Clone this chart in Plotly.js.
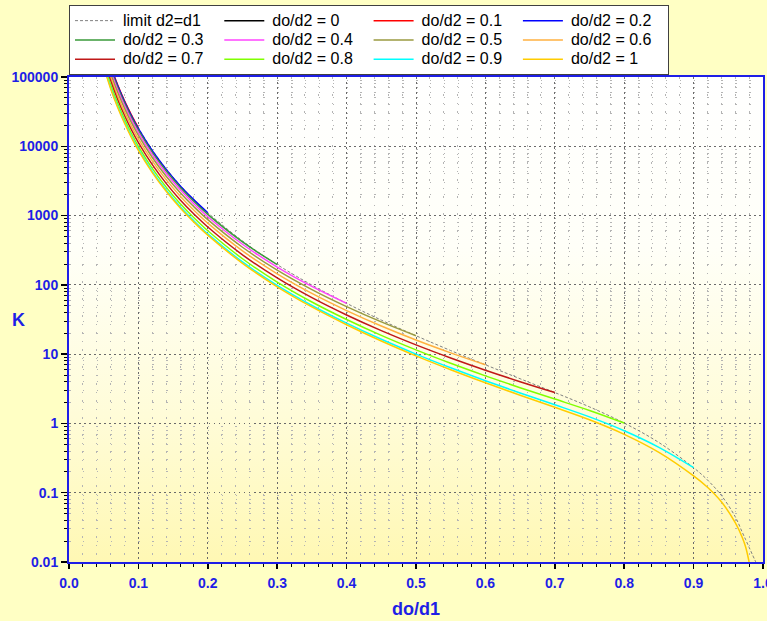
<!DOCTYPE html>
<html>
<head>
<meta charset="utf-8">
<script src="https://cdn.plot.ly/plotly-3.0.1.min.js"></script>
<style>
html,body{margin:0;padding:0;background:#FFFFC4;width:767px;height:621px;overflow:hidden;}
#bg{position:absolute;left:69px;top:77px;width:694px;height:485px;
 background:linear-gradient(to bottom,#ffffff 0%,#fffff8 35%,#fffcd8 70%,#fff8b4 100%);}
#chart{position:absolute;left:0;top:0;width:767px;height:621px;}
.legend .legendtext{font-size:16px !important;transform:translateX(3px);}
</style>
</head>
<body>
<div id="bg"></div>
<div id="chart"></div>
<script>
// do/d1 sample positions (x axis)
const xCommon = [0.05,0.06,0.07,0.08,0.09,0.1,0.12,0.14,0.16,0.18,0.2,0.25,0.3,0.35,0.4,0.45,0.5,0.55,0.6,0.65,0.7,0.75,0.8,0.85,0.9];
const xTailLimit = [0.92,0.94,0.96,0.97,0.975,0.98,0.985,0.99];
const xTailR1 = [0.92,0.94,0.96,0.97,0.975,0.98];

// K values
const kLimit = [300000,144500,77890,45590,28330,18500,8856,4741,2746,1697,1098,429.8,196.1,99.29,54.13,31.0,18.44,11.27,7.02,4.417,2.791,1.733,1.012,0.530,0.2298,
                0.1527,0.0913,0.045,0.027,0.021,0.0163,0.0126,0.0098];
const k00 = [null];
const k01 = [297600,143500,77470,45410,28280,18500];
const k02 = [288300,139000,75040,43980,27380,17920,8615,4638,2703,1683,1098];
const k03 = [273300,131800,71140,41700,25960,16980,8165,4395,2561,1594,1040,416.8,196.1];
const k04 = [253700,122300,66040,38710,24090,15760,7574,4076,2374,1477,962.9,385.4,180.9,95.0,54.1];
const k05 = [230800,111300,60080,35220,21910,14330,6884,3703,2155,1341,873.5,348.8,163.3,85.47,48.53,29.21,18.44];
const k06 = [206300,99510,53710,31480,19580,12800,6146,3305,1922,1195,777.9,309.7,144.4,75.28,42.56,25.48,15.99,10.43,7.02];
const k07 = [182400,87970,47480,27830,17300,11300,5425,2916,1694,1053,684.5,271.4,125.9,65.31,36.72,21.83,13.60,8.80,5.865,4.006,2.791];
const k08 = [161500,77900,42050,24650,15310,9996,4796,2576,1495,928.4,602.9,238.0,109.8,56.62,31.62,18.65,11.51,7.372,4.858,3.275,2.248,1.538,1.012];
const k09 = [146600,70690,38150,22370,13890,9061,4345,2333,1352,839.3,544.5,214.0,98.29,50.39,27.97,16.37,10.02,6.35,4.137,2.751,1.858,1.242,0.784,0.4516,0.2298];
const k10 = [140800,67900,36650,21480,13340,8700,4171,2239,1297,804.9,521.9,204.8,93.83,47.98,26.56,15.49,9.44,5.956,3.858,2.549,1.708,1.128,0.696,0.3824,0.1748,
             0.1198,0.0739,0.037,0.0228,0.0165,0.0100];

const seriesNames = ['limit d2=d1','do/d2 = 0','do/d2 = 0.1','do/d2 = 0.2','do/d2 = 0.3','do/d2 = 0.4','do/d2 = 0.5','do/d2 = 0.6','do/d2 = 0.7','do/d2 = 0.8','do/d2 = 0.9','do/d2 = 1'];
const seriesColors = ['#808080','#000000','#ff0000','#0000ff','#3a9a3a','#ff44ff','#9a9a40','#ffb040','#c01818','#80ff00','#00ffff','#ffcc00'];
const seriesK = [kLimit,k00,k01,k02,k03,k04,k05,k06,k07,k08,k09,k10];
const seriesX = [xCommon.concat(xTailLimit),[null]].concat(
  [k01,k02,k03,k04,k05,k06,k07,k08,k09].map(a => xCommon.slice(0,a.length)),
  [xCommon.concat(xTailR1)]);

const traces = seriesNames.map((nm,i) => ({
  type:'scatter', mode:'lines', name:nm,
  x: seriesX[i], y: seriesK[i],
  line:{color:seriesColors[i], width: i===0 ? 1 : 1.5, dash: i===0 ? '3px,2px' : 'solid', shape:'spline', smoothing:1},
  hoverinfo:'x+y'
}));

const axisBlue = '#1e1ee6';
const fontFam = 'Liberation Sans, Arial, sans-serif';

const layout = {
  width:767, height:621,
  margin:{l:69,r:4,t:77,b:59},
  paper_bgcolor:'rgba(0,0,0,0)', plot_bgcolor:'rgba(0,0,0,0)',
  font:{family:fontFam, color:axisBlue},
  showlegend:true,
  legend:{orientation:'h', xref:'paper', x:0, xanchor:'left', yref:'container', y:1-5/621, yanchor:'top',
          bgcolor:'#ffffff', bordercolor:'#404040', borderwidth:1,
          font:{family:fontFam, size:12.5, color:'#000000'},
          entrywidth:94.3, entrywidthmode:'pixels', itemwidth:40, traceorder:'normal'},
  annotations:[{text:'K', xref:'paper', yref:'paper', x:(18-69)/694, y:0.5, xanchor:'center', yanchor:'middle',
                showarrow:false, textangle:0, font:{family:fontFam, size:18, color:axisBlue, weight:700}}],
  xaxis:{type:'linear', range:[0,1], tick0:0, dtick:0.1, tickformat:'.1f',
         ticks:'outside', ticklen:5, tickwidth:1.5, tickcolor:'#000000', ticklabelstandoff:2, ticklabeloverflow:'allow',
         showline:true, linecolor:axisBlue, linewidth:2, mirror:true,
         showgrid:true, gridcolor:'#6a6a6a', gridwidth:1, griddash:'1.5px,3.5px', zeroline:false,
         tickfont:{family:fontFam, size:14, color:axisBlue, weight:700},
         minor:{dtick:0.02, ticks:'outside', ticklen:3, tickwidth:1, tickcolor:'#000000',
                showgrid:true, gridcolor:'#b4b4b4', gridwidth:1, griddash:'1.5px,7px'},
         title:{text:'do/d1', font:{family:fontFam, size:18, color:axisBlue, weight:700}, standoff:13}},
  yaxis:{type:'log', range:[-2,5], tick0:0, dtick:1, tickformat:'~g',
         ticks:'outside', ticklen:6, tickwidth:1.5, tickcolor:'#000000',
         showline:true, linecolor:axisBlue, linewidth:2, mirror:true,
         showgrid:true, gridcolor:'#6a6a6a', gridwidth:1, griddash:'1.5px,3.5px', zeroline:false,
         tickfont:{family:fontFam, size:14, color:axisBlue, weight:700},
         minor:{dtick:'D1', ticks:'outside', ticklen:3, tickwidth:1, tickcolor:'#000000',
                showgrid:true, gridcolor:'#b4b4b4', gridwidth:1, griddash:'1.5px,12.38px'}},
  xaxis2:{overlaying:'x', anchor:'y', type:'linear', range:[0,1], tick0:0, dtick:0.1,
          ticks:'inside', ticklen:7, tickwidth:1.5, tickcolor:'#000000', mirror:'allticks',
          showline:false, showgrid:false, zeroline:false, showticklabels:false,
          minor:{dtick:0.02, ticks:'inside', ticklen:3.5, tickwidth:1, tickcolor:'#000000', showgrid:false}},
  yaxis2:{overlaying:'y', anchor:'x', type:'log', range:[-2,5], tick0:0, dtick:1,
          ticks:'inside', ticklen:8, tickwidth:1.5, tickcolor:'#000000', mirror:'allticks',
          showline:false, showgrid:false, zeroline:false, showticklabels:false,
          minor:{dtick:'D1', ticks:'inside', ticklen:4, tickwidth:1, tickcolor:'#000000', showgrid:false}}
};

Plotly.newPlot('chart', traces, layout, {staticPlot:true, displayModeBar:false});
</script>
</body>
</html>
